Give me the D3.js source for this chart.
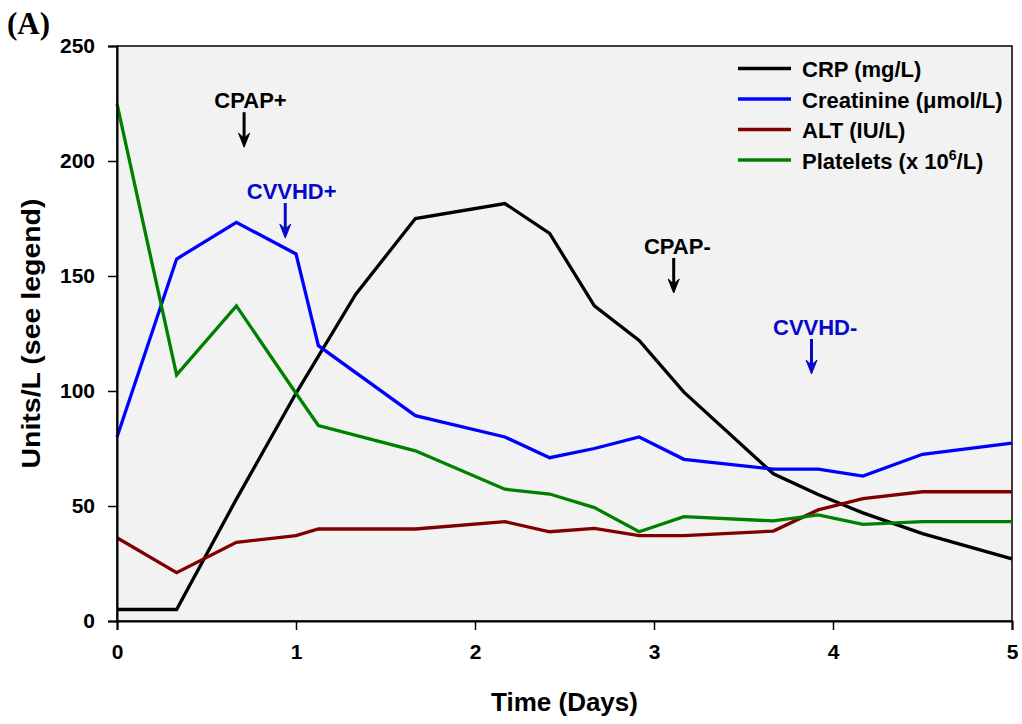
<!DOCTYPE html>
<html>
<head>
<meta charset="utf-8">
<script src="https://cdn.jsdelivr.net/npm/d3@7"></script>
<style>
  body { margin: 0; background: #fff; }
  svg { display: block; font-family: "Liberation Sans", Arial, sans-serif; font-weight: bold; }
</style>
</head>
<body>
<svg id="chart" width="1022" height="724"></svg>
<script>
// Sampling times (days) shared by creatinine, ALT and platelets
const days = [0, 0.333, 0.667, 1, 1.125, 1.667, 2.167, 2.417, 2.667, 2.917, 3.167, 3.667, 3.917, 4.167, 4.5, 5];
// CRP sampling times (days)
const crpDays = [0, 0.333, 0.667, 1, 1.333, 1.667, 2.167, 2.417, 2.667, 2.917, 3.167, 3.667, 3.917, 4.167, 4.5, 5];

const crp        = [5, 5, 53, 99, 142, 175, 181.5, 168.5, 137, 122, 99.5, 64, 55, 47, 38, 27];
const creatinine = [80, 157.4, 173.3, 159.6, 119.7, 89.3, 80, 71, 75, 80, 70.3, 66, 66, 63, 72.5, 77.3];
const alt        = [36.2, 21, 34.2, 37.1, 40, 40, 43.2, 38.8, 40.3, 37.1, 37.1, 39.1, 48.3, 53.2, 56.2, 56.2];
const platelets  = [224.8, 107, 137, 99, 85, 74, 57.3, 55.2, 49.3, 38.8, 45.4, 43.5, 46.1, 42, 43.2, 43.2];

const xTicks = [0, 1, 2, 3, 4, 5];
const yTicks = [0, 50, 100, 150, 200, 250];

// Clinical events: label, day, value at arrow tip, colour
const eventLabels = ["CPAP+", "CVVHD+", "CPAP-", "CVVHD-"];
const eventDays   = [0.71, 0.94, 3.11, 3.88];
const eventValues = [206, 166.5, 142.6, 107.4];
const eventColors = ["#000000", "#0808c8", "#000000", "#0808c8"];

const series = [
  { name: "CRP (mg/L)", x: crpDays, y: crp, color: "#000000" },
  { name: "Creatinine (\u03bcmol/L)", x: days, y: creatinine, color: "#0000ff" },
  { name: "ALT (IU/L)", x: days, y: alt, color: "#800000" },
  { name: "Platelets", x: days, y: platelets, color: "#008000" }
];

const svg = d3.select("#chart");
const margin = { left: 117, top: 46, right: 1012, bottom: 621 };

const x = d3.scaleLinear().domain([0, 5]).range([margin.left, margin.right]);
const y = d3.scaleLinear().domain([0, 250]).range([margin.bottom, margin.top]);

// plot background
svg.append("rect")
  .attr("x", margin.left).attr("y", margin.top)
  .attr("width", margin.right - margin.left).attr("height", margin.bottom - margin.top)
  .attr("fill", "#f2f2f2")
  .attr("stroke", "#000").attr("stroke-width", 1.5);

// series lines
const line = d3.line();
series.forEach(s => {
  const pts = s.x.map((d, i) => [x(d), y(s.y[i])]);
  svg.append("path")
    .attr("d", line(pts))
    .attr("fill", "none")
    .attr("stroke", s.color)
    .attr("stroke-width", 3.3)
    .attr("stroke-linejoin", "miter");
});

// axes
const xAxis = d3.axisBottom(x).tickValues(xTicks).tickSize(9).tickPadding(14).tickFormat(d3.format("d"));
const yAxis = d3.axisLeft(y).tickValues(yTicks).tickSize(9).tickPadding(13).tickFormat(d3.format("d"));

const gx = svg.append("g").attr("transform", `translate(0,${margin.bottom})`).call(xAxis);
const gy = svg.append("g").attr("transform", `translate(${margin.left},0)`).call(yAxis);
[gx, gy].forEach(g => {
  g.select(".domain").attr("stroke", "#000").attr("stroke-width", 2);
  g.selectAll(".tick line").attr("stroke", "#000").attr("stroke-width", 1.5);
  g.selectAll(".tick text")
    .attr("fill", "#000")
    .style("font-family", "'Liberation Sans', Arial, sans-serif")
    .style("font-weight", "bold")
    .style("font-size", "21px");
});
gx.selectAll(".tick text").attr("dy", "0.71em");

// axis titles
svg.append("text")
  .attr("x", (margin.left + margin.right) / 2).attr("y", 711)
  .attr("text-anchor", "middle")
  .style("font-size", "26px")
  .text("Time (Days)");

svg.append("text")
  .attr("transform", `translate(40,${(margin.top + margin.bottom) / 2}) rotate(-90)`)
  .attr("text-anchor", "middle")
  .style("font-size", "25px")
  .attr("textLength", 270)
  .attr("lengthAdjust", "spacingAndGlyphs")
  .text("Units/L (see legend)");

// panel letter
svg.append("text")
  .attr("x", 7).attr("y", 34)
  .style("font-family", "'Liberation Serif', 'Times New Roman', serif")
  .style("font-size", "31px")
  .text("(A)");

// event annotations with downward arrows; arrow sits under the label's word part
eventLabels.forEach((lab, i) => {
  const ax = x(eventDays[i]);
  const tipY = y(eventValues[i]);
  const c = eventColors[i];
  svg.append("line")
    .attr("x1", ax).attr("x2", ax)
    .attr("y1", tipY - 35).attr("y2", tipY - 4)
    .attr("stroke", c).attr("stroke-width", 3);
  svg.append("path")
    .attr("d", `M${ax - 5.5},${tipY - 14} L${ax},${tipY} L${ax + 5.5},${tipY - 14} L${ax},${tipY - 9} Z`)
    .attr("fill", c).attr("stroke", c).attr("stroke-width", 1).attr("stroke-linejoin", "miter");
  const probe = svg.append("text").style("font-size", "22px").text(lab.slice(0, -1));
  const w = probe.node().getComputedTextLength();
  probe.remove();
  svg.append("text")
    .attr("x", ax - w / 2).attr("y", tipY - 39)
    .attr("fill", c)
    .style("font-size", "22px")
    .text(lab);
});

// legend
const legend = svg.append("g");
series.forEach((s, i) => {
  const ly = 68.5 + i * 30.5;
  legend.append("line")
    .attr("x1", 738).attr("x2", 791)
    .attr("y1", ly).attr("y2", ly)
    .attr("stroke", s.color).attr("stroke-width", 3.5);
  const t = legend.append("text")
    .attr("x", 802).attr("y", ly + 8.5)
    .style("font-size", "22px");
  if (i === 3) {
    t.append("tspan").text("Platelets (x 10");
    t.append("tspan").attr("dy", -9).style("font-size", "14px").text("6");
    t.append("tspan").attr("dy", 9).text("/L)");
  } else {
    t.text(s.name);
  }
});
</script>
</body>
</html>
